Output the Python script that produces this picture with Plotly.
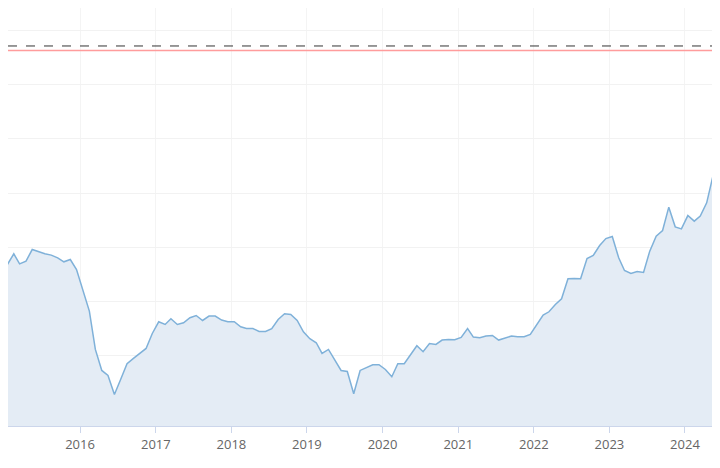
import plotly.graph_objects as go
import pandas as pd

dates = pd.date_range("2015-01-01", periods=115, freq="MS") + pd.Timedelta(days=14)
values = [145.3,156,146,148.7,160.3,157.7,156,154.7,152,148,150.3,140.3,120.3,98.7,60.3,39.3,34.3,15.3,30.3,46,
          51.3,56.3,61.3,76.3,88,85.3,91,85.3,87,92,94.3,89.3,93.7,93.7,89.7,88,88,83,81.3,
          81.3,78.3,78.3,81,90.3,96,95.3,89.3,78,71,67,56.3,60.3,50,39.3,38.3,16,39.3,42.3,45,45,
          40.3,33,46,46,54.3,64,58,66.3,65.3,69.7,70.3,70,72.3,81.3,72.7,72,73.7,
          74.3,69.7,72,73.7,73,73,75.3,84.7,94.7,98,105.3,111,131,131.3,131,151.3,154.3,164.3,171.3,173.3,
          152,139.3,136.3,138.3,137.3,158.7,173.7,179.3,202.7,183,181,194.3,188.7,193.7,207,233.7,234.3,236]
baseline = -16.3
dashed_level = 364
red_level = 359.5
x_range = ["2015-01-18", "2024-07-27"]
tick_years = [f"{y}-01-01" for y in range(2015, 2025)]
tick_text = [str(y) for y in range(2015, 2025)]

fig = go.Figure()
fig.add_trace(go.Scatter(x=dates, y=[baseline]*len(dates), mode="lines", line=dict(width=0), showlegend=False, hoverinfo="skip"))
fig.add_trace(go.Scatter(x=dates, y=values, mode="lines", fill="tonexty", fillcolor="#e4ecf5",
                         line=dict(color="#7fb1d9", width=1.5), showlegend=False))
fig.add_hline(y=red_level, line=dict(color="#ff9c9c", width=1.5))
fig.add_hline(y=dashed_level, line=dict(color="#333333", width=1, dash="dash"))
fig.update_layout(width=720, height=468, margin=dict(l=0, r=0, t=0, b=50, pad=0, autoexpand=False),
                  plot_bgcolor="white", paper_bgcolor="white",
                  font=dict(family="Open Sans", size=13, color="#666666"))
fig.update_xaxes(range=x_range, tickvals=tick_years, ticktext=tick_text, showgrid=True, gridcolor="#f4f4f4",
                 ticks="outside", ticklen=6, tickcolor="#ccd6eb", showline=True, linecolor="#ccd6eb",
                 zeroline=False, automargin=False)
fig.update_yaxes(range=[baseline, 402], tick0=0, dtick=54.2, showticklabels=False, showgrid=True,
                 gridcolor="#f2f2f2", zeroline=False, automargin=False)
fig.write_html("out.html")
